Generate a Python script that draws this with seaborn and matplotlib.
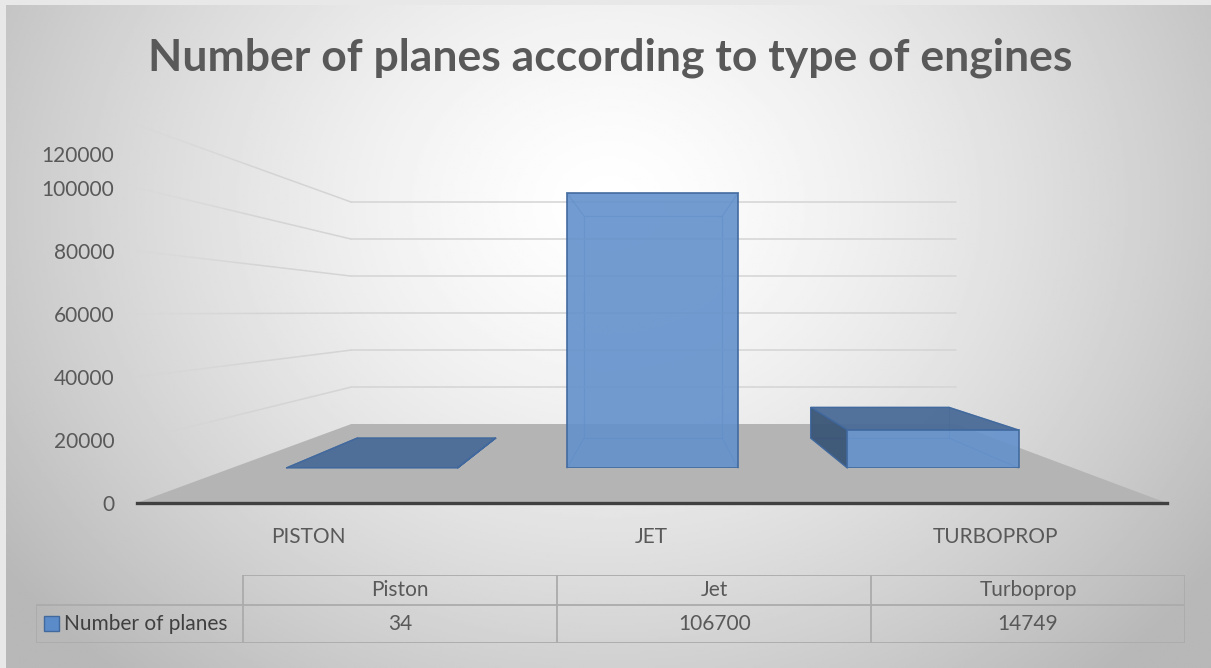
import numpy as np
import pandas as pd
import matplotlib
matplotlib.use('Agg')
import matplotlib.pyplot as plt
from matplotlib.patches import Polygon, Rectangle
from matplotlib.transforms import ScaledTranslation
import seaborn as sns

# data
engine_types = ['Piston', 'Jet', 'Turboprop']
plane_counts = [34, 106700, 14749]
y_ticks = [0, 20000, 40000, 60000, 80000, 100000, 120000]
series_name = 'Number of planes'
title = 'Number of planes according to type of engines'

W, H = 1211, 668
VP = np.array([656.0, H - 312.0])   # vanishing point (display px)
S_BAR_BACK = 0.808                  # depth of bar back faces
S_WALL = 0.718                      # depth of back wall
S_FLOOR_FRONT = 1.224               # depth of floor front edge

BAR_FRONT = '#6391cc'
BAR_EDGE = '#41699e'
TOP_COL = '#4a6b97'
SIDE_COL = '#3a5577'
GRID_COL = '#d4d4d4'
TEXT_COL = '#595959'

sns.set_theme(style='white')
plt.rcParams['font.family'] = ['Lato', 'DejaVu Sans']

fig = plt.figure(figsize=(W / 100, H / 100), dpi=100)
fig.patch.set_facecolor('#e8e8e8')


def px_rect(x0, x1, ytop, ybot):
    return [x0 / W, (H - ybot) / H, (x1 - x0) / W, (ybot - ytop) / H]


# background gradient
bg = fig.add_axes(px_rect(6, W, 5, H), zorder=-10)
yy, xx = np.mgrid[0:1:300j, 0:1:500j]
r = np.sqrt(((xx - 0.5) / 0.62) ** 2 + ((yy - 0.3) / 0.95) ** 2)
shade = 1 - 0.28 * np.clip(r, 0, 1) ** 1.4
bg.imshow(shade, cmap='gray', vmin=0, vmax=1, extent=[0, 1, 0, 1],
          aspect='auto', origin='upper')
bg.axis('off')

# front plane of the bars
bar_ax = fig.add_axes(px_rect(231.75, 1073.25, 159, 468), zorder=2)
df = pd.DataFrame({'engine': engine_types, 'planes': plane_counts})
sns.barplot(data=df, x='engine', y='planes', order=engine_types, width=0.61,
            color=BAR_FRONT, alpha=0.9, edgecolor=BAR_EDGE, linewidth=1.3,
            saturation=1, ax=bar_ax)
bar_ax.set_xlim(-0.5, 2.5)
bar_ax.set_ylim(0, 120000)
bar_ax.axis('off')


def proj(pts, s):
    d = bar_ax.transData.transform(np.atleast_2d(pts))
    return VP + s * (d - VP)


# decoration layer in display pixels (floor, walls, box sides)
deco = fig.add_axes([0, 0, 1, 1], zorder=1)
deco.set_xlim(0, W)
deco.set_ylim(0, H)
deco.axis('off')

x_lo, x_hi = bar_ax.get_xlim()
floor = np.vstack([proj([(x_lo, 0), (x_hi, 0)], S_FLOOR_FRONT),
                   proj([(x_hi, 0), (x_lo, 0)], S_WALL)])
deco.add_patch(Polygon(floor, closed=True, facecolor='#b4b4b4', edgecolor='none'))

for v in y_ticks[1:]:
    a = proj((x_lo, v), S_FLOOR_FRONT)[0]
    b = proj((x_lo, v), S_WALL)[0]
    c = proj((x_hi, v), S_WALL)[0]
    n = 20
    for i in range(n):
        p0 = a + (b - a) * i / n
        p1 = a + (b - a) * (i + 1) / n
        deco.plot([p0[0], p1[0]], [p0[1], p1[1]], color=GRID_COL, lw=1.1,
                  alpha=min(1, 0.1 + i / (0.6 * n)), solid_capstyle='butt')
    deco.plot([b[0], c[0]], [b[1], c[1]], color=GRID_COL, lw=1.1)

# 3d box for every bar drawn by seaborn
for p in bar_ax.patches:
    x0, w, h = p.get_x(), p.get_width(), p.get_height()
    corners = [(x0, 0), (x0 + w, 0), (x0 + w, h), (x0, h)]
    f = proj(corners, 1.0)
    k = proj(corners, S_BAR_BACK)
    faces = {
        'top': ([f[3], f[2], k[2], k[3]], f[3][1] < VP[1]),
        'left': ([f[0], f[3], k[3], k[0]], f[0][0] > VP[0]),
        'right': ([f[1], f[2], k[2], k[1]], f[1][0] < VP[0]),
    }
    # hidden edges seen through the transparent front
    deco.add_patch(Polygon(k, closed=True, facecolor='none', edgecolor=BAR_EDGE,
                           lw=0.9, alpha=0.55))
    for i in range(4):
        deco.plot([f[i][0], k[i][0]], [f[i][1], k[i][1]], color=BAR_EDGE,
                  lw=0.9, alpha=0.55)
    for name, (poly, visible) in faces.items():
        if visible:
            col = TOP_COL if name == 'top' else SIDE_COL
            deco.add_patch(Polygon(poly, closed=True, facecolor=col, alpha=0.95,
                                   edgecolor=BAR_EDGE, lw=1.0, zorder=3))

# axis labels on the front floor plane
lb = proj((x_lo, 0), S_FLOOR_FRONT)[0]
rt = proj((x_hi, 120000), S_FLOOR_FRONT)[0]
lab_ax = fig.add_axes([lb[0] / W, lb[1] / H, (rt[0] - lb[0]) / W, (rt[1] - lb[1]) / H],
                      zorder=3)
lab_ax.patch.set_alpha(0)
lab_ax.set_xlim(x_lo, x_hi)
lab_ax.set_ylim(0, 120000)
lab_ax.set_xticks(range(len(engine_types)))
lab_ax.set_xticklabels([e.upper() for e in engine_types])
lab_ax.set_yticks(y_ticks)
lab_ax.set_yticklabels([str(t) for t in y_ticks])
lab_ax.tick_params(axis='x', length=0, pad=17, labelsize=15, labelcolor=TEXT_COL)
lab_ax.tick_params(axis='y', length=0, pad=16, labelsize=15, labelcolor=TEXT_COL)
for side in ['top', 'left', 'right']:
    lab_ax.spines[side].set_visible(False)
lab_ax.spines['bottom'].set_color('#404040')
lab_ax.spines['bottom'].set_linewidth(2.4)
top_lbl = lab_ax.get_yticklabels()[-1]
top_lbl.set_transform(top_lbl.get_transform() +
                      ScaledTranslation(0, -0.29, fig.dpi_scale_trans))

fig.text(610 / W, 1 - 71 / H, title, ha='center', va='baseline',
         fontsize=32, fontweight='bold', color=TEXT_COL)

# data table
tab_ax = fig.add_axes(px_rect(36, 1185, 575, 643), zorder=3)
lab_w = 209 / 316.3
tab_ax.set_xlim(-lab_w, len(engine_types))
tab_ax.set_ylim(2, 0)
tab_ax.axis('off')
row_split = 30 / 68 * 2
n = len(engine_types)
line_kw = dict(color='#ababab', lw=1.3)
tab_ax.plot([0, n], [0, 0], **line_kw)
tab_ax.plot([-lab_w, n], [row_split, row_split], **line_kw)
tab_ax.plot([-lab_w, n], [2, 2], **line_kw)
tab_ax.plot([-lab_w, -lab_w], [row_split, 2], **line_kw)
for i in range(n + 1):
    tab_ax.plot([i, i], [0, 2], **line_kw)
for i, (name, val) in enumerate(zip(engine_types, plane_counts)):
    tab_ax.text(i + 0.5, row_split / 2, name, ha='center', va='center',
                fontsize=15, color=TEXT_COL)
    tab_ax.text(i + 0.5, (row_split + 2) / 2, str(val), ha='center', va='center',
                fontsize=15, color=TEXT_COL)
tab_ax.add_patch(Rectangle((-lab_w + 8 / 316.3, 1.21), 15 / 316.3, 0.44,
                           facecolor='#5b8bc9', edgecolor=BAR_EDGE, lw=1.0))
tab_ax.text(-lab_w + 28 / 316.3, (row_split + 2) / 2, series_name, ha='left',
            va='center', fontsize=15, color='#404040')

fig.savefig('out.png', dpi=100)
